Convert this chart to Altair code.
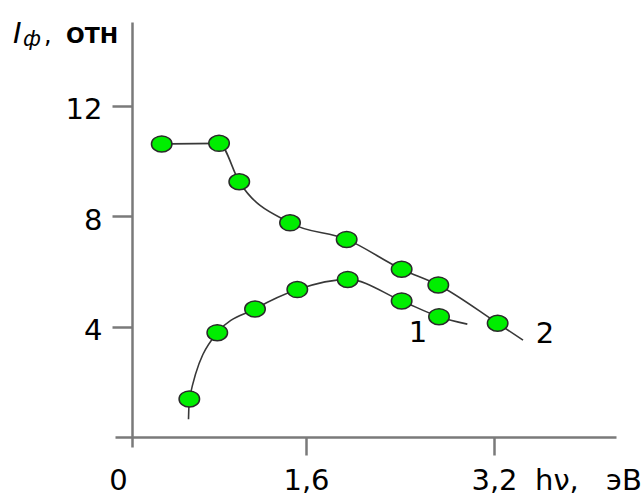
import altair as alt
import pandas as pd

# ---- data ----
# curve 1: line path (includes the unmarked ends) and marked points
c1_line_x = [0.600, 0.607, 0.845, 1.166, 1.526, 1.955, 2.414, 2.732, 2.973]
c1_line_y = [0.64, 1.38, 3.78, 4.64, 5.34, 5.71, 4.93, 4.36, 4.09]
c1_pts_x = [0.607, 0.845, 1.166, 1.526, 1.955, 2.414, 2.732]
c1_pts_y = [1.38, 3.78, 4.64, 5.34, 5.71, 4.93, 4.36]
# curve 2
c2_line_x = [0.372, 0.860, 1.032, 1.464, 1.946, 2.414, 2.726, 3.231, 3.447]
c2_line_y = [10.62, 10.64, 9.25, 7.76, 7.16, 6.08, 5.51, 4.12, 3.51]
c2_pts_x = [0.372, 0.860, 1.032, 1.464, 1.946, 2.414, 2.726, 3.231]
c2_pts_y = [10.62, 10.64, 9.25, 7.76, 7.16, 6.08, 5.51, 4.12]
# curve labels
curve_names = ["1", "2"]
curve_label_x = [2.553, 3.634]
curve_label_y = [3.77, 3.73]
# ticks
x_ticks = [0, 1.6, 3.2]
y_ticks = [4, 8, 12]

# ---- layout (pixels) ----
LEFT, TOP, W, H = 115, 22, 501, 425
X0PX, XUNIT = 118, 117.5      # pixel of x=0, pixels per x unit
Y0PX, YUNIT = 437, 27.6       # pixel of y=0, pixels per y unit
x_dom = [(LEFT - X0PX) / XUNIT, (LEFT + W - X0PX) / XUNIT]
y_dom = [(Y0PX - (TOP + H)) / YUNIT, (Y0PX - TOP) / YUNIT]
YAXIS_X = 132
FONT = "DejaVu Sans"
GRAY = "#7a7a7a"

lines = pd.DataFrame({
    "x": c1_line_x + c2_line_x,
    "y": c1_line_y + c2_line_y,
    "c": ["1"] * len(c1_line_x) + ["2"] * len(c2_line_x),
})
pts = pd.DataFrame({
    "x": c1_pts_x + c2_pts_x,
    "y": c1_pts_y + c2_pts_y,
})
labels = pd.DataFrame({"x": curve_label_x, "y": curve_label_y, "t": curve_names})

xs = alt.Scale(domain=x_dom, nice=False, zero=False)
ys = alt.Scale(domain=y_dom, nice=False, zero=False)

xaxis = alt.Axis(
    values=x_ticks, offset=-((TOP + H) - Y0PX), grid=False,
    domainColor=GRAY, domainWidth=2.5, tickColor=GRAY, tickWidth=2.5, tickSize=18,
    tickOpacity={"condition": {"test": "datum.value == 0", "value": 0}, "value": 1},
    labelFont=FONT, labelFontSize=29, labelColor="black", labelPadding=11,
    labelExpr="replace(format(datum.value, '.1~f'), '.', ',')", title=None,
)
yaxis = alt.Axis(
    values=y_ticks, offset=-(YAXIS_X - LEFT), grid=False,
    domainColor=GRAY, domainWidth=2.5, tickColor=GRAY, tickWidth=2.5, tickSize=20,
    labelFont=FONT, labelFontSize=29, labelColor="black", labelPadding=10,
    labelOffset=4, title=None,
)

base_line = alt.Chart(lines).mark_line(
    color="#383838", strokeWidth=1.6, interpolate="monotone"
).encode(
    x=alt.X("x:Q", scale=xs, axis=xaxis),
    y=alt.Y("y:Q", scale=ys, axis=yaxis),
    detail="c:N",
)

ellipse = "M-1,0 A1,0.78 0 1,0 1,0 A1,0.78 0 1,0 -1,0 Z"
points = alt.Chart(pts).mark_point(
    shape=ellipse, size=420, filled=True, fill="#00ee00", stroke="#2a2a2a",
    strokeWidth=1.5, opacity=1,
).encode(x=alt.X("x:Q", scale=xs), y=alt.Y("y:Q", scale=ys))

curve_txt = alt.Chart(labels).mark_text(
    font=FONT, fontSize=29, color="black", align="center", baseline="middle"
).encode(x=alt.X("x:Q", scale=xs), y=alt.Y("y:Q", scale=ys), text="t:N")


def txt(s, x, y, size, style="normal", weight="normal", align="left"):
    return alt.Chart(pd.DataFrame({"t": [s]})).mark_text(
        font=FONT, fontSize=size, fontStyle=style, fontWeight=weight,
        color="black", align=align, baseline="alphabetic",
    ).encode(x=alt.value(x - LEFT), y=alt.value(y - TOP), text="t:N")


annots = [
    txt("I", 13, 43, 29, style="italic"),
    txt("ф", 23, 46, 21, style="italic"),
    txt(",", 44, 43, 24),
    txt("ОТН", 66, 43, 22, weight="bold"),
    txt("hν,", 535, 490, 29),
    txt("эВ", 606, 490, 29),
]

chart = alt.layer(base_line, points, curve_txt, *annots).properties(
    width=W, height=H,
    padding={"left": LEFT, "top": TOP, "right": 644 - LEFT - W, "bottom": 499 - TOP - H},
    autosize="none",
    background="white",
).configure_view(stroke=None)

chart.save("out.html", embed_options={"renderer": "svg", "actions": False})
